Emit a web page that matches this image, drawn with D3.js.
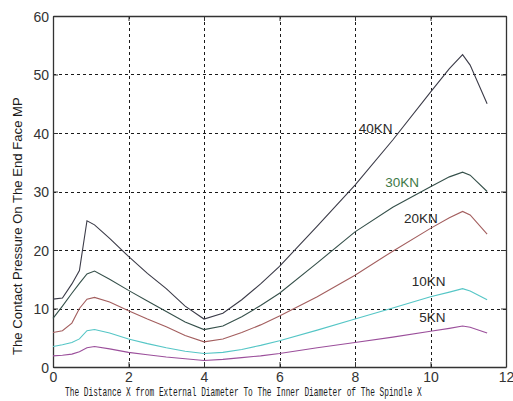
<!DOCTYPE html>
<html>
<head>
<meta charset="utf-8">
<script src="https://cdn.jsdelivr.net/npm/d3@7"></script>
<style>
  html, body { margin: 0; padding: 0; background: #fff; }
  svg { display: block; }
</style>
</head>
<body>
<div id="chart"></div>
<script>
// Distance from the external diameter (shared sample positions)
const xs = [0, 0.25, 0.5, 0.7, 0.9, 1.1, 1.5, 2, 2.5, 3, 3.5, 4, 4.5, 5, 5.5, 6, 7, 8, 9, 10, 10.5, 10.85, 11.05, 11.5];

// Contact pressure on the end face for each axial load
const p40 = [11.6, 11.8, 14.2, 16.5, 25.0, 24.3, 22.0, 18.9, 16.0, 13.4, 10.4, 8.2, 9.2, 11.5, 14.2, 17.2, 24.1, 31.1, 38.8, 47.0, 51.0, 53.4, 51.6, 45.0];
const p30 = [8.3, 10.4, 12.6, 14.3, 15.9, 16.4, 15.0, 13.1, 11.3, 9.5, 7.7, 6.4, 7.0, 8.6, 10.5, 12.6, 17.8, 23.1, 27.3, 30.8, 32.5, 33.3, 32.8, 30.0];
const p20 = [5.9, 6.2, 7.5, 10.0, 11.6, 11.9, 11.1, 9.6, 8.2, 6.9, 5.4, 4.3, 4.8, 5.9, 7.2, 8.7, 12.0, 15.7, 19.8, 23.7, 25.5, 26.6, 26.0, 22.7];
const p10 = [3.5, 3.8, 4.2, 4.8, 6.2, 6.4, 5.8, 4.8, 4.0, 3.3, 2.7, 2.3, 2.5, 3.0, 3.7, 4.5, 6.3, 8.2, 10.1, 12.0, 12.8, 13.4, 13.0, 11.5];
const p5  = [1.9, 2.0, 2.2, 2.6, 3.3, 3.5, 3.1, 2.5, 2.1, 1.7, 1.4, 1.1, 1.3, 1.6, 1.9, 2.3, 3.3, 4.2, 5.1, 6.1, 6.6, 7.0, 6.8, 5.8];

const seriesNames = ["40KN", "30KN", "20KN", "10KN", "5KN"];
const seriesValues = [p40, p30, p20, p10, p5];
const seriesColors = ["#3b3b48", "#35504a", "#a35e5e", "#55c6c6", "#9b4f9b"];
const labelColors = ["#2a2a2a", "#3f7a48", "#2a2a2a", "#2a2a2a", "#2a2a2a"];
// label anchor positions in data units (x, y)
const labelPos = [[8.1, 40.0], [8.8, 30.8], [9.3, 24.6], [9.5, 13.8], [9.7, 7.7]];

const xTicks = [0, 2, 4, 6, 8, 10, 12];
const yTicks = [0, 10, 20, 30, 40, 50, 60];

const xTitle = "The Distance X from External Diameter To The Inner Diameter of The Spindle  X";
const yTitle = "The Contact Pressure On The End Face  MP";

const W = 513, H = 401;
const m = { left: 53, right: 7, top: 16, bottom: 34 };

const svg = d3.select("#chart").append("svg")
  .attr("width", W).attr("height", H);

const x = d3.scaleLinear().domain([0, 12]).range([m.left, W - m.right]);
const y = d3.scaleLinear().domain([0, 60]).range([H - m.bottom, m.top]);

// dashed grid
const grid = svg.append("g").attr("class", "grid");
grid.selectAll("line.gv").data(xTicks.slice(1, -1)).enter().append("line")
  .attr("class", "gv")
  .attr("x1", d => Math.round(x(d)) + 0.5).attr("x2", d => Math.round(x(d)) + 0.5)
  .attr("y1", y(60)).attr("y2", y(0));
grid.selectAll("line.gh").data(yTicks.slice(1, -1)).enter().append("line")
  .attr("class", "gh")
  .attr("y1", d => Math.round(y(d)) + 0.5).attr("y2", d => Math.round(y(d)) + 0.5)
  .attr("x1", x(0)).attr("x2", x(12));
grid.selectAll("line")
  .style("stroke", "#1a1a1a")
  .style("stroke-width", "1px")
  .style("stroke-dasharray", "3 3");

// axes with inward ticks on all four sides
const tickFont = "Liberation Sans, Arial, sans-serif";
const gx = svg.append("g").attr("transform", `translate(0,${y(0)})`)
  .call(d3.axisBottom(x).tickValues(xTicks).tickSizeInner(-5).tickSizeOuter(0).tickPadding(5));
const gy = svg.append("g").attr("transform", `translate(${x(0)},0)`)
  .call(d3.axisLeft(y).tickValues(yTicks).tickSizeInner(-5).tickSizeOuter(0).tickPadding(4));
const gt = svg.append("g").attr("transform", `translate(0,${y(60)})`)
  .call(d3.axisTop(x).tickValues(xTicks).tickSizeInner(-5).tickSizeOuter(0).tickFormat(""));
const gr = svg.append("g").attr("transform", `translate(${x(12)},0)`)
  .call(d3.axisRight(y).tickValues(yTicks).tickSizeInner(-5).tickSizeOuter(0).tickFormat(""));

[gx, gy, gt, gr].forEach(g => {
  g.select(".domain").attr("stroke", "#333").attr("stroke-width", 1.3);
  g.selectAll(".tick line").attr("stroke", "#333");
  g.selectAll(".tick text").attr("fill", "#333")
    .style("font-family", tickFont).style("font-size", "14px");
});
gy.selectAll(".tick text").attr("dy", "0.36em");

// pressure curves
const line = d3.line().x((d, i) => x(xs[i])).y(d => y(d));
svg.append("g").selectAll("path").data(seriesValues).join("path")
  .attr("d", d => line(d))
  .attr("fill", "none")
  .attr("stroke", (d, i) => seriesColors[i])
  .attr("stroke-width", 1.1);

// load labels
svg.append("g").selectAll("text").data(seriesNames).join("text")
  .attr("x", (d, i) => x(labelPos[i][0]))
  .attr("y", (d, i) => y(labelPos[i][1]))
  .attr("fill", (d, i) => labelColors[i])
  .style("font-family", tickFont).style("font-size", "13.5px")
  .text(d => d);

// axis titles: narrow glyphs obtained by a horizontal squeeze to the wanted width
function squeezedTitle(text, family, size, width, tx, ty, rotate) {
  const g = svg.append("g");
  const t = g.append("text")
    .attr("fill", "#1a1a1a")
    .style("font-family", family)
    .style("font-size", size + "px")
    .text(text);
  const natural = t.node().getComputedTextLength() || width;
  const k = width / natural;
  g.attr("transform", `translate(${tx},${ty})` + (rotate ? " rotate(-90)" : "") + ` scale(${k},1)`);
}
squeezedTitle(xTitle, "Liberation Mono, DejaVu Sans Mono, monospace", 12, 357, 65, 396, false);
squeezedTitle(yTitle, "Liberation Sans, Arial, sans-serif", 12, 258, 22, 355, true);
</script>
</body>
</html>
